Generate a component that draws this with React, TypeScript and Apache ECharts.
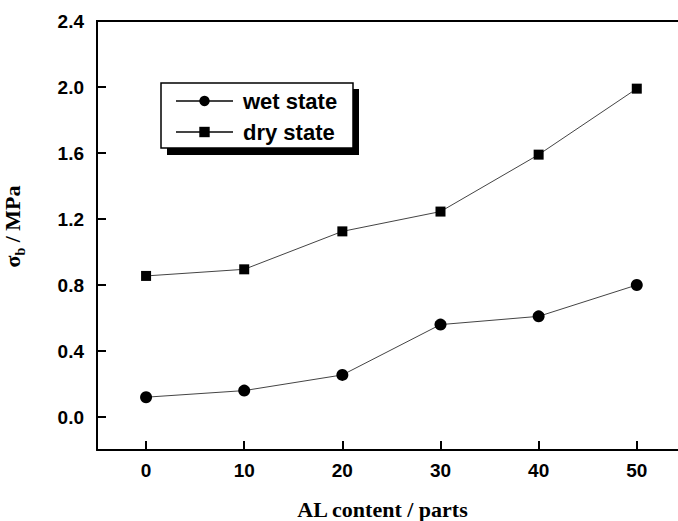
import React, { useEffect, useRef } from "react";
import * as echarts from "echarts";

const alContent = [0, 10, 20, 30, 40, 50];
const wetState = [0.12, 0.16, 0.255, 0.56, 0.61, 0.8];
const dryState = [0.855, 0.895, 1.125, 1.245, 1.59, 1.99];
const yTickValues = [0, 0.4, 0.8, 1.2, 1.6, 2.0, 2.4];
const xTickValues = [0, 10, 20, 30, 40, 50];

export default function App() {
  const ref = useRef<HTMLDivElement>(null);
  useEffect(() => {
    if (!ref.current) return;
    const chart = echarts.init(ref.current, null, { renderer: "svg" });
    const labelFont = {
      fontFamily: "Liberation Sans, Arial, sans-serif",
      fontWeight: "bold" as const,
      fontSize: 19,
      color: "#000",
    };
    chart.setOption({
      animation: false,
      backgroundColor: "#fff",
      grid: {
        left: 97,
        right: 0,
        top: 21,
        bottom: 71,
        show: false,
        containLabel: false,
        outerBoundsMode: "none",
      },
      xAxis: {
        type: "value",
        min: -5,
        max: 54.2,
        name: "AL content / parts",
        nameLocation: "middle",
        nameGap: 48,
        nameTextStyle: {
          fontFamily: "Liberation Serif, Times New Roman, serif",
          fontWeight: "bold",
          fontSize: 22,
          color: "#000",
          padding: [0, 10, 0, 0],
        },
        splitLine: { show: false },
        axisLine: { onZero: false, lineStyle: { color: "#000", width: 2 } },
        axisTick: {
          inside: true,
          length: 9,
          lineStyle: { color: "#000", width: 2 },
          customValues: xTickValues,
        },
        axisLabel: {
          ...labelFont,
          margin: 11,
          customValues: xTickValues,
        },
      },
      yAxis: {
        type: "value",
        min: -0.2,
        max: 2.4,
        name: "{s|σ}{sub|b}{s| / MPa}",
        nameLocation: "middle",
        nameGap: 70,
        nameRotate: 90,
        nameTextStyle: {
          padding: [0, 0, 0, 18],
          rich: {
            s: {
              fontFamily: "Liberation Serif, Times New Roman, serif",
              fontWeight: "bold",
              fontSize: 22,
              color: "#000",
              lineHeight: 30,
            },
            sub: {
              fontFamily: "Liberation Serif, Times New Roman, serif",
              fontWeight: "bold",
              fontSize: 14,
              color: "#000",
              lineHeight: 30,
              verticalAlign: "bottom",
              padding: [12, 0, 0, 0],
            },
          },
        },
        splitLine: { show: false },
        axisLine: { onZero: false, lineStyle: { color: "#000", width: 2 } },
        axisTick: {
          inside: true,
          length: 9,
          lineStyle: { color: "#000", width: 2 },
          customValues: yTickValues.filter((v) => v < 2.4),
        },
        axisLabel: {
          ...labelFont,
          margin: 13,
          customValues: yTickValues,
          formatter: (v: number) => v.toFixed(1),
        },
      },
      legend: {
        orient: "vertical",
        left: 175,
        top: 90,
        itemWidth: 57,
        itemHeight: 13,
        itemGap: 9,
        padding: 0,
        z: 10,
        textStyle: {
          fontFamily: "Liberation Sans, Arial, sans-serif",
          fontWeight: "bold",
          fontSize: 22,
          color: "#000",
          padding: [0, 0, 0, 5],
        },
        data: ["wet state", "dry state"],
      },
      graphic: [
        {
          type: "line",
          z: 1,
          shape: { x1: 96, y1: 21, x2: 678, y2: 21 },
          style: { stroke: "#000", lineWidth: 2 },
        },
        {
          type: "rect",
          z: 1,
          shape: { x: 167, y: 89, width: 192, height: 66 },
          style: { fill: "#000" },
        },
        {
          type: "rect",
          z: 2,
          shape: { x: 161, y: 83, width: 192, height: 65 },
          style: { fill: "#fff", stroke: "#000", lineWidth: 1.5 },
        },
      ],
      series: [
        {
          name: "wet state",
          type: "line",
          data: alContent.map((x, i) => [x, wetState[i]]),
          symbol: "circle",
          symbolSize: 12,
          itemStyle: { color: "#000" },
          lineStyle: { color: "#444", width: 1 },
        },
        {
          name: "dry state",
          type: "line",
          data: alContent.map((x, i) => [x, dryState[i]]),
          symbol: "rect",
          symbolSize: 10,
          itemStyle: { color: "#000" },
          lineStyle: { color: "#444", width: 1 },
        },
      ],
    });
    return () => chart.dispose();
  }, []);
  return (
    <div
      ref={ref}
      style={{ position: "absolute", left: 0, top: 0, width: 678, height: 521 }}
    />
  );
}
